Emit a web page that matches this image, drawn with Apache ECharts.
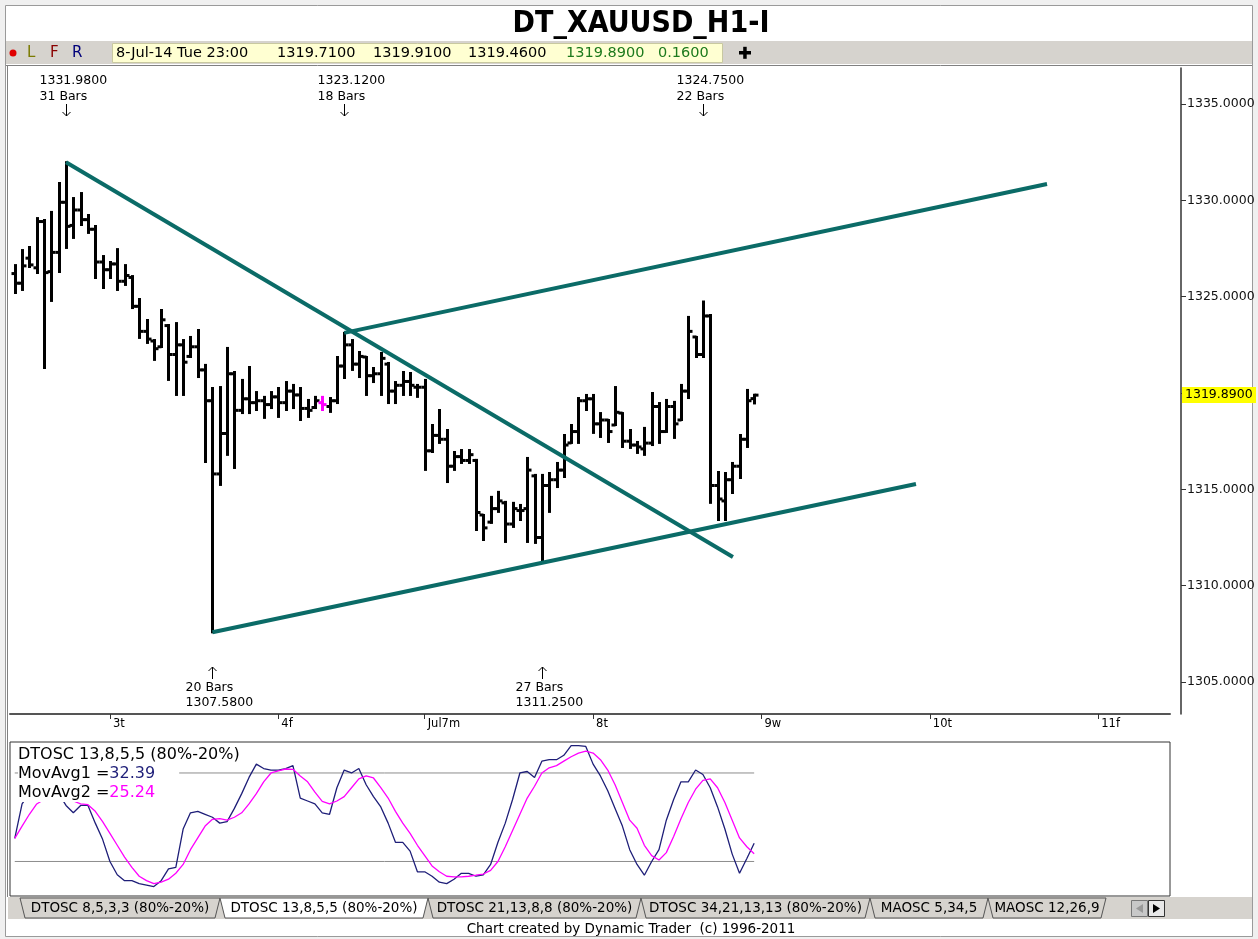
<!DOCTYPE html>
<html>
<head>
<meta charset="utf-8">
<title>DT_XAUUSD_H1-I</title>
<script src="https://cdn.jsdelivr.net/npm/echarts@6.0.0/dist/echarts.min.js"></script>
<style>
html, body {margin: 0; padding: 0; background: #f0f0f0;}
#chart {width: 1258px; height: 939px;}
</style>
</head>
<body>
<div id="chart"></div>
<script>
// hourly bars, 2-Jul-14 to 8-Jul-14 23:00 (bar index = position on the time axis)
const barOpen = [1326.20,1325.70,1327.00,1326.50,1328.90,1326.30,1327.30,1329.90,1328.70,1329.50,
  1329.00,1328.50,1326.80,1326.40,1326.70,1325.80,1326.00,1324.50,1323.20,1322.70,
  1322.40,1323.50,1322.00,1322.50,1321.90,1322.40,1321.20,1319.60,1315.80,1317.90,
  1321.00,1319.10,1319.70,1319.50,1319.60,1319.40,1319.80,1319.50,1320.10,1319.90,
  1319.20,1319.25,1319.50,1319.30,1319.60,1321.40,1322.50,1321.50,1321.87,1320.90,
  1321.00,1321.50,1320.10,1320.40,1320.60,1320.30,1320.30,1317.00,1317.80,1317.60,
  1316.20,1316.70,1316.50,1316.50,1313.67,1313.30,1314.00,1314.30,1313.20,1313.90,
  1314.00,1315.70,1312.50,1315.20,1315.50,1316.00,1317.41,1318.00,1319.60,1319.70,
  1318.40,1318.60,1318.34,1318.96,1317.50,1317.30,1317.10,1317.40,1319.30,1318.00,
  1319.30,1318.60,1320.10,1322.91,1322.00,1324.00,1315.20,1314.40,1315.50,1316.20,
  1317.60,1319.71];
const barHigh = [1326.64,1327.42,1327.58,1329.08,1328.98,1329.40,1330.90,1331.98,1330.12,1330.38,
  1329.24,1328.67,1327.11,1326.80,1327.47,1326.64,1326.07,1324.88,1323.79,1322.75,
  1324.31,1323.53,1323.63,1322.75,1322.91,1323.27,1321.46,1320.26,1320.31,1322.34,
  1321.09,1320.68,1321.35,1320.05,1319.80,1320.05,1320.26,1320.57,1320.42,1320.26,
  1319.64,1319.80,1319.80,1319.74,1321.87,1323.12,1322.75,1322.13,1321.87,1321.30,
  1322.08,1321.56,1320.57,1321.09,1321.04,1320.42,1320.68,1318.34,1319.12,1318.08,
  1316.94,1317.04,1317.04,1316.53,1313.67,1314.61,1314.87,1314.35,1314.30,1314.19,
  1316.63,1315.75,1315.75,1315.85,1316.37,1317.82,1318.34,1319.74,1319.90,1319.90,
  1318.96,1318.60,1320.31,1318.96,1318.08,1317.46,1318.19,1320.00,1319.48,1319.64,
  1319.54,1320.42,1323.95,1322.91,1324.75,1324.05,1315.90,1315.85,1316.37,1317.82,
  1320.16,1319.91];
const barLow = [1325.19,1325.35,1326.54,1326.23,1321.30,1324.78,1326.28,1327.53,1328.05,1328.72,
  1328.31,1325.97,1325.45,1325.97,1325.35,1325.61,1324.41,1322.86,1322.60,1321.72,
  1322.39,1320.68,1319.90,1319.90,1321.87,1320.83,1316.42,1307.58,1315.23,1316.79,
  1316.11,1318.96,1318.96,1319.12,1318.71,1319.22,1318.76,1319.12,1319.22,1318.60,
  1318.76,1319.22,1319.12,1319.02,1319.48,1320.78,1321.20,1320.83,1319.90,1320.57,
  1319.90,1319.48,1319.48,1319.90,1319.90,1319.80,1316.01,1316.94,1317.41,1315.38,
  1316.01,1316.37,1316.37,1312.89,1312.37,1313.26,1313.83,1312.27,1313.05,1313.41,
  1312.27,1312.22,1311.25,1313.83,1315.12,1315.64,1317.41,1317.41,1319.12,1317.93,
  1317.72,1317.46,1318.34,1317.20,1317.15,1316.89,1316.79,1317.30,1317.41,1317.98,
  1317.67,1318.60,1319.74,1321.87,1321.87,1314.30,1313.41,1313.41,1314.81,1315.59,
  1317.20,1319.46];
const barClose = [1325.70,1326.60,1326.65,1328.90,1326.25,1327.30,1329.90,1328.65,1329.50,1329.00,
  1328.50,1326.80,1326.40,1326.70,1325.80,1326.10,1324.50,1323.20,1322.80,1322.30,
  1323.80,1322.00,1322.50,1321.60,1322.40,1321.20,1319.60,1315.80,1317.90,1321.00,
  1319.10,1319.70,1319.50,1319.60,1319.40,1319.80,1319.50,1320.10,1319.90,1319.20,
  1319.10,1319.60,1319.40,1319.60,1321.40,1322.50,1321.50,1321.90,1320.90,1321.00,
  1321.80,1320.10,1320.40,1320.60,1320.40,1320.30,1317.00,1317.80,1317.60,1316.20,
  1316.70,1316.50,1316.80,1313.80,1313.00,1314.00,1314.40,1313.20,1314.00,1313.90,
  1316.00,1312.50,1315.20,1315.50,1316.00,1317.30,1318.00,1319.60,1319.70,1318.40,
  1318.60,1318.00,1319.00,1317.50,1317.30,1317.20,1317.40,1319.30,1318.00,1319.30,
  1318.40,1320.10,1323.20,1322.00,1324.00,1315.20,1314.50,1315.50,1316.20,1317.60,
  1319.60,1319.89];
const markedBars = [42];

// DTOSC 13,8,5,5 : fast (MovAvg1) and slow (MovAvg2)
const oscFast = [35.7,59,66,70,64,63,66,58,53,58,58,46,35,20,11,7,7,5,4,3,
  7,15,16,42,53,54,52,50,46,47,56,66,77,86,83,82,82,83,85,63,
  61,59,53,52,70,82,80,83,72,64,57,46,33,33,27,13,13,10,6,5,
  8,12,12,10,11,18,33,46,62,80,81,77,88,89,89,92,98.6,98.6,98,86,
  78,68,56,44,28,18,10.7,20,28,48,62,74,74,82,79,70,57,42,25,12,
  22,32.39];
const oscSlow = [35.7,44,52,59,62,63,64,63,61,59,58.5,54,47,39,31,23,16,10,7,5,
  6,8,12,18,28,36,44,48.6,49,48,50,53,59,66,74,80,81.5,82.7,82.5,78,
  74,67,60.7,59,61,64,70,76,78,76.6,70,63,54,46,39,31,24,17,13,10,
  9.6,9.6,10,10.7,11.5,14,20,30,41,52,63,71,80,83.5,85,88,91,93.5,94.8,93.5,
  89,82,72,60,48,42.5,31,24,21,26,37,49,60,69,75,76,70,60,48,36,
  30,25.24];
const oscLevels = [80, 20];

// swing pivots: bar index, price, bar count, side
const pivotBars = [7, 27, 45, 72, 94];
const pivotPrices = [1331.98, 1307.58, 1323.12, 1311.25, 1324.75];
const pivotCounts = [31, 20, 18, 27, 22];
const pivotKinds = ['high', 'low', 'high', 'low', 'high'];

// drawn trend lines [bar, price] -> [bar, price]
const trendLines = [
  [[7, 1331.98], [98.1, 1311.49]],
  [[27, 1307.58], [123.1, 1315.28]],
  [[45, 1323.12], [141.0, 1330.85]]
];

const dayTickBars = [13, 36, 56, 79, 102, 125, 148];
const dayTickLabels = ['3t', '4f', 'Jul7m', '8t', '9w', '10t', '11f'];
const priceTicks = [1305, 1310, 1315, 1320, 1325, 1330, 1335];

const tabLabels = ['DTOSC 8,5,3,3 (80%-20%)', 'DTOSC 13,8,5,5 (80%-20%)', 'DTOSC 21,13,8,8 (80%-20%)',
  'DTOSC 34,21,13,13 (80%-20%)', 'MAOSC 5,34,5', 'MAOSC 12,26,9'];
const tabEdges = [[20, 220], [220, 428], [428, 641], [641, 870], [870, 988], [988, 1106]];

const quote = ['8-Jul-14 Tue 23:00', '1319.7100', '1319.9100', '1319.4600', '1319.8900', '0.1600'];
const quoteX = [116, 277, 373, 468, 566, 658];
const quoteColor = ['#000', '#000', '#000', '#000', '#1d7a1d', '#1d7a1d'];

const F = "'DejaVu Sans', sans-serif";
const teal = '#0b6b67';

const ohlcData = barOpen.map((o, i) => [i, o, barHigh[i], barLow[i], barClose[i]]);
const pivotData = pivotBars.map((b, i) => [b, pivotPrices[i], pivotCounts[i]]);
const last = ohlcData.length - 1;

function renderBar(params, api) {
  const i = api.value(0);
  const h = api.coord([i, api.value(2)]);
  const l = api.coord([i, api.value(3)]);
  const o = api.coord([i, api.value(1)]);
  const c = api.coord([i, api.value(4)]);
  const x = Math.round(h[0]) + 0.5;
  const col = markedBars.indexOf(i) >= 0 ? '#ff00ff' : '#000';
  const st = {stroke: col, lineWidth: 3};
  return {
    type: 'group',
    children: [
      {type: 'line', shape: {x1: x, y1: h[1] - 1, x2: x, y2: l[1] + 1}, style: st},
      {type: 'line', shape: {x1: x - 4, y1: o[1], x2: x, y2: o[1]}, style: st},
      {type: 'line', shape: {x1: x, y1: c[1], x2: x + 4, y2: c[1]}, style: st}
    ]
  };
}

function txt(x, y, s) {
  return {type: 'text', style: {text: s, x: x, y: y, fill: '#000', font: '12.5px ' + F, verticalAlign: 'middle'}};
}

function renderPivot(params, api) {
  const i = params.dataIndex;
  const p = api.coord([api.value(0), api.value(1)]);
  const cs = params.coordSys;
  const x = Math.round(p[0]) + 0.5;
  const tx = x - 27;
  const ast = {stroke: '#000', lineWidth: 1, fill: null};
  const kids = [];
  if (pivotKinds[i] === 'high') {
    const a = cs.y + 36;
    kids.push(txt(tx, cs.y + 13, pivotPrices[i].toFixed(4)));
    kids.push(txt(tx, cs.y + 29, pivotCounts[i] + ' Bars'));
    kids.push({type: 'line', shape: {x1: x, y1: a, x2: x, y2: a + 12}, style: ast});
    kids.push({type: 'polyline', shape: {points: [[x - 4, a + 8], [x, a + 12], [x + 4, a + 8]]}, style: ast});
  } else {
    const b = cs.y + cs.height;
    const a = b - 47;
    kids.push({type: 'line', shape: {x1: x, y1: a, x2: x, y2: a + 12}, style: ast});
    kids.push({type: 'polyline', shape: {points: [[x - 4, a + 4], [x, a], [x + 4, a + 4]]}, style: ast});
    kids.push(txt(tx, b - 26, pivotCounts[i] + ' Bars'));
    kids.push(txt(tx, b - 11, pivotPrices[i].toFixed(4)));
  }
  return {type: 'group', children: kids};
}

function renderLast(params, api) {
  const cs = params.coordSys;
  const p = api.coord([api.value(0), api.value(1)]);
  const x = cs.x + cs.width + 12;
  return {
    type: 'group',
    children: [
      {type: 'rect', shape: {x: x, y: Math.round(p[1]) - 8, width: 74, height: 16}, style: {fill: '#ffff00'}},
      {type: 'text', style: {text: api.value(1).toFixed(4), x: x + 3, y: Math.round(p[1]), fill: '#000',
        font: '12.5px ' + F, verticalAlign: 'middle'}}
    ]
  };
}

const series = [
  {type: 'custom', name: 'bars', xAxisIndex: 0, yAxisIndex: 0, renderItem: renderBar, data: ohlcData, z: 2, clip: false}
];
trendLines.forEach(seg => series.push({
  type: 'line', xAxisIndex: 0, yAxisIndex: 0, data: seg, symbol: 'none', z: 3,
  lineStyle: {color: teal, width: 4}
}));
series.push({type: 'custom', name: 'pivots', xAxisIndex: 0, yAxisIndex: 0, renderItem: renderPivot, data: pivotData, z: 4, clip: false});
series.push({type: 'custom', name: 'last', xAxisIndex: 0, yAxisIndex: 0, renderItem: renderLast,
  data: [[last, barClose[last]]], z: 4, clip: false});
oscLevels.forEach(v => series.push({
  type: 'line', xAxisIndex: 1, yAxisIndex: 1, data: [[0, v], [last, v]], symbol: 'none', z: 2,
  lineStyle: {color: '#8c8c8c', width: 1}
}));
series.push({type: 'line', name: 'MovAvg1', xAxisIndex: 1, yAxisIndex: 1, data: oscFast.map((v, i) => [i, v]),
  symbol: 'none', z: 3, lineStyle: {color: '#1e1e78', width: 1.3}});
series.push({type: 'line', name: 'MovAvg2', xAxisIndex: 1, yAxisIndex: 1, data: oscSlow.map((v, i) => [i, v]),
  symbol: 'none', z: 3, lineStyle: {color: '#ff00ff', width: 1.3}});

// window chrome: title, quote bar, tabs, footer
const graphic = [
  {type: 'rect', z: -10, shape: {x: 5.5, y: 5.5, width: 1247, height: 931}, style: {fill: '#fff', stroke: '#9a9a9a'}},
  {type: 'text', z: 10, style: {text: 'DT_XAUUSD_H1-I', x: 641, y: 24, align: 'center', verticalAlign: 'middle',
    font: "bold 30px 'DejaVu Sans Condensed', 'DejaVu Sans'", fill: '#000'}},
  {type: 'rect', z: 10, shape: {x: 6, y: 41, width: 1246, height: 23}, style: {fill: '#d6d3ce'}},
  {type: 'line', z: 10, shape: {x1: 6, y1: 65.5, x2: 1252, y2: 65.5}, style: {stroke: '#808080', lineWidth: 1}},
  {type: 'line', z: 10, shape: {x1: 7.5, y1: 65, x2: 7.5, y2: 897}, style: {stroke: '#808080', lineWidth: 1}},
  {type: 'circle', z: 11, shape: {cx: 13, cy: 53, r: 3.5}, style: {fill: '#e00000'}},
  {type: 'text', z: 11, style: {text: 'L', x: 27, y: 53, verticalAlign: 'middle', font: '15px ' + F, fill: '#7a7a00'}},
  {type: 'text', z: 11, style: {text: 'F', x: 50, y: 53, verticalAlign: 'middle', font: '15px ' + F, fill: '#8a0000'}},
  {type: 'text', z: 11, style: {text: 'R', x: 72, y: 53, verticalAlign: 'middle', font: '15px ' + F, fill: '#00007a'}},
  {type: 'rect', z: 11, shape: {x: 112.5, y: 43.5, width: 610, height: 19}, style: {fill: '#ffffd2', stroke: '#c8c8a0'}},
  {type: 'rect', z: 11, shape: {x: 739, y: 51, width: 12, height: 3.5}, style: {fill: '#000'}},
  {type: 'rect', z: 11, shape: {x: 743.2, y: 46.8, width: 3.5, height: 12}, style: {fill: '#000'}},
  {type: 'text', z: 100, style: {text: 'DTOSC 13,8,5,5 (80%-20%)', x: 18, y: 755, verticalAlign: 'middle',
    font: '16px ' + F, fill: '#000', backgroundColor: '#fff', padding: [1, 2, 1, 0]}},
  {type: 'text', z: 100, style: {text: 'MovAvg1 ={a|' + oscFast[last].toFixed(2) + '}', x: 18, y: 774, verticalAlign: 'middle',
    font: '16px ' + F, fill: '#000', backgroundColor: '#fff', padding: [1, 24, 1, 0],
    rich: {a: {fill: '#1e1e78', fontSize: 16, fontFamily: F}}}},
  {type: 'text', z: 100, style: {text: 'MovAvg2 ={a|' + oscSlow[last].toFixed(2) + '}', x: 18, y: 793, verticalAlign: 'middle',
    font: '16px ' + F, fill: '#000', backgroundColor: '#fff', padding: [1, 2, 1, 0],
    rich: {a: {fill: '#ff00ff', fontSize: 16, fontFamily: F}}}},
  {type: 'rect', z: 10, shape: {x: 8, y: 897, width: 1244, height: 22}, style: {fill: '#d6d3ce'}},
  {type: 'text', z: 11, style: {text: 'Chart created by Dynamic Trader  (c) 1996-2011', x: 631, y: 929,
    align: 'center', verticalAlign: 'middle', font: '13.5px ' + F, fill: '#000'}},
  {type: 'rect', z: 11, shape: {x: 1131.5, y: 900.5, width: 16, height: 16}, style: {fill: '#c8c8c8', stroke: '#777'}},
  {type: 'rect', z: 11, shape: {x: 1148.5, y: 900.5, width: 16, height: 16}, style: {fill: '#e8e8e8', stroke: '#333'}},
  {type: 'polygon', z: 12, shape: {points: [[1143, 904], [1136, 908.5], [1143, 913]]}, style: {fill: '#999'}},
  {type: 'polygon', z: 12, shape: {points: [[1153, 904], [1160, 908.5], [1153, 913]]}, style: {fill: '#000'}}
];
quote.forEach((q, i) => graphic.push({type: 'text', z: 12,
  style: {text: q, x: quoteX[i], y: 53, verticalAlign: 'middle', font: '14.5px ' + F, fill: quoteColor[i]}}));
tabLabels.forEach((t, i) => {
  const [x0, x1] = tabEdges[i];
  const sel = i === 1;
  graphic.push({type: 'polygon', z: sel ? 13 : 11,
    shape: {points: [[x0, 898], [x1, 898], [x1 - 5, 918], [x0 + 5, 918]]},
    style: {fill: sel ? '#fff' : '#d6d3ce', stroke: '#555', lineWidth: 1}});
  graphic.push({type: 'text', z: 14, style: {text: t, x: (x0 + x1) / 2, y: 908, align: 'center', verticalAlign: 'middle',
    font: '13.5px ' + F, fill: '#000'}});
});

const chart = echarts.init(document.getElementById('chart'));
chart.setOption({
  animation: false,
  backgroundColor: '#f0f0f0',
  grid: [
    {left: 10, top: 68, width: 1160, height: 646},
    {left: 10, top: 742, width: 1160, height: 154, show: true, backgroundColor: '#fff', borderColor: '#333', borderWidth: 1}
  ],
  xAxis: [
    {gridIndex: 0, type: 'value', min: -0.65, max: 157.8,
      axisLine: {show: true, onZero: false, lineStyle: {color: '#555', width: 2}},
      axisTick: {show: true, customValues: dayTickBars, length: 5, lineStyle: {color: '#333'}},
      axisLabel: {customValues: dayTickBars, formatter: v => dayTickLabels[dayTickBars.indexOf(v)],
        align: 'left', margin: 4, padding: [0, 0, 0, 3], color: '#000', fontFamily: F, fontSize: 11.5},
      splitLine: {show: false}},
    {gridIndex: 1, type: 'value', min: -0.65, max: 157.8, show: false}
  ],
  yAxis: [
    {gridIndex: 0, type: 'value', position: 'right', offset: 11, min: 1303.34, max: 1336.87,
      axisLine: {show: true, onZero: false, lineStyle: {color: '#333', width: 1.5}},
      axisTick: {show: true, customValues: priceTicks, length: 5, lineStyle: {color: '#333'}},
      axisLabel: {customValues: priceTicks, formatter: v => v.toFixed(4), margin: 6,
        color: '#111', fontFamily: F, fontSize: 12.5},
      splitLine: {show: false}},
    {gridIndex: 1, type: 'value', min: -3.4, max: 101, show: false}
  ],
  graphic: graphic,
  series: series
});
</script>
</body>
</html>
